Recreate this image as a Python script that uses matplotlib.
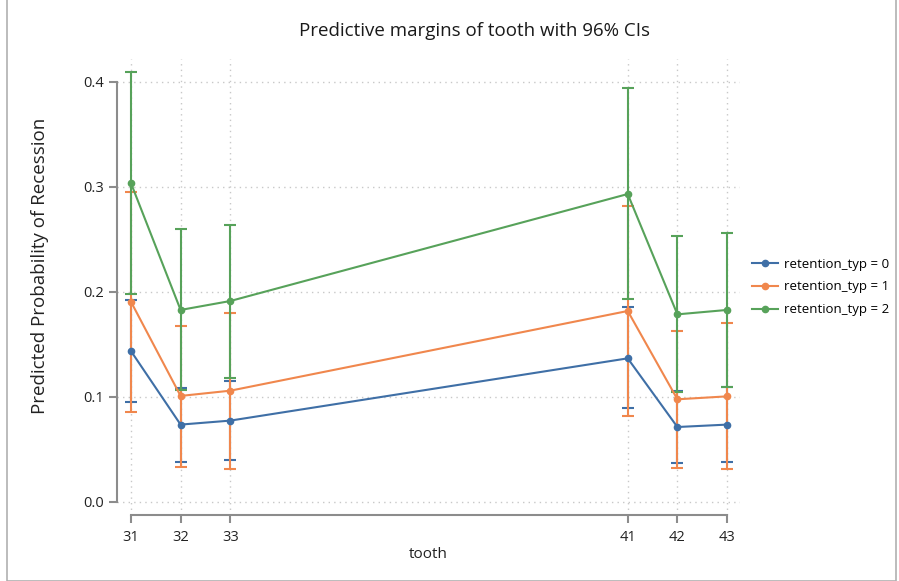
"""Predictive margins of tooth with 96% CIs, redrawn with matplotlib."""

# Imports
import matplotlib
matplotlib.use('Agg')
import matplotlib.pyplot as plt
from matplotlib.patches import Rectangle
from matplotlib.lines import Line2D

# Data
teeth = [31, 32, 33, 41, 42, 43]

margin_0 = [0.1438, 0.0737, 0.0775, 0.1368, 0.0714, 0.0737]
lower_0 = [0.0955, 0.0384, 0.0400, 0.0892, 0.0375, 0.0378]
upper_0 = [0.1924, 0.1089, 0.1156, 0.1854, 0.1055, 0.1096]

margin_1 = [0.1908, 0.1010, 0.1060, 0.1819, 0.0978, 0.1006]
lower_1 = [0.0854, 0.0333, 0.0317, 0.0822, 0.0324, 0.0311]
upper_1 = [0.2956, 0.1676, 0.1803, 0.2819, 0.1632, 0.1705]

margin_2 = [0.3038, 0.1829, 0.1914, 0.2933, 0.1787, 0.1829]
lower_2 = [0.1984, 0.1067, 0.1184, 0.1930, 0.1050, 0.1098]
upper_2 = [0.4098, 0.2603, 0.2641, 0.3946, 0.2530, 0.2562]

series_labels = ['retention_typ = 0', 'retention_typ = 1', 'retention_typ = 2']
series_colors = ['#3f6fa6', '#f0874d', '#57a25a']

y_ticks = [0.0, 0.1, 0.2, 0.3, 0.4]

plt.rcParams['font.family'] = ['Open Sans', 'DejaVu Sans']


def render_data():
    fig = plt.figure(figsize=(8.99, 5.81), dpi=100)
    W, H = 899, 581

    # thin gray frame around the picture
    fig.patches.append(Rectangle((7 / W, 0), (896 - 7) / W, (581 - 4) / H + 0.01,
                                 transform=fig.transFigure, fill=False,
                                 edgecolor='#b0b0b0', linewidth=1.2))

    ax = fig.add_axes([117 / W, (H - 515) / H, (740 - 117) / W, (515 - 59) / H])

    series = [(margin_0, lower_0, upper_0),
              (margin_1, lower_1, upper_1),
              (margin_2, lower_2, upper_2)]
    handles = []
    for (m, lo, hi), lab, col in zip(series, series_labels, series_colors):
        err = [[v - l for v, l in zip(m, lo)], [h - v for v, h in zip(m, hi)]]
        ax.errorbar(teeth, m, yerr=err, color=col, marker='o', markersize=4.5,
                    linewidth=1.5, elinewidth=1.5, capsize=4.5, capthick=1.5,
                    label=lab)
        handles.append(Line2D([], [], color=col, marker='o', markersize=4.5,
                              linewidth=1.5))

    ax.set_xlim(30.72, 43.26)
    ax.set_ylim(-0.0124, 0.4219)
    ax.set_xticks(teeth)
    ax.set_xticklabels([str(t) for t in teeth])
    ax.set_yticks(y_ticks)
    ax.set_yticklabels(['%.1f' % v for v in y_ticks])

    ax.grid(True, linestyle=(0, (1, 3)), color='#c8c8c8', linewidth=1.0)
    ax.set_axisbelow(True)

    for side in ['top', 'right']:
        ax.spines[side].set_visible(False)
    for side in ['left', 'bottom']:
        ax.spines[side].set_color('#8c8c8c')
        ax.spines[side].set_linewidth(1.5)
    ax.spines['left'].set_bounds(0.0, 0.4)
    ax.spines['bottom'].set_bounds(31, 43)

    ax.tick_params(axis='both', colors='#8c8c8c', width=1.5, length=6,
                   labelsize=10.5, labelcolor='#222222')
    ax.tick_params(axis='x', pad=5)

    ax.set_xlabel('tooth', fontsize=11, color='#222222', labelpad=1)
    ax.set_ylabel('Predicted Probability of Recession', fontsize=13.5,
                  color='#222222')
    ax.yaxis.set_label_coords(-0.109, 0.546)

    fig.text(475 / W, 1 - 31 / H, 'Predictive margins of tooth with 96% CIs',
             ha='center', va='center', fontsize=13.5, color='#1a1a1a')

    fig.legend(handles=handles, labels=series_labels, loc='center left',
               bbox_to_anchor=(752 / W, 1 - 287 / H), frameon=False,
               fontsize=9.5, handlelength=2.0, handletextpad=0.45,
               labelspacing=0.75, borderpad=0, borderaxespad=0)

    fig.savefig('out.png', dpi=100)


def main():
    render_data()


if __name__ == "__main__":
    main()
